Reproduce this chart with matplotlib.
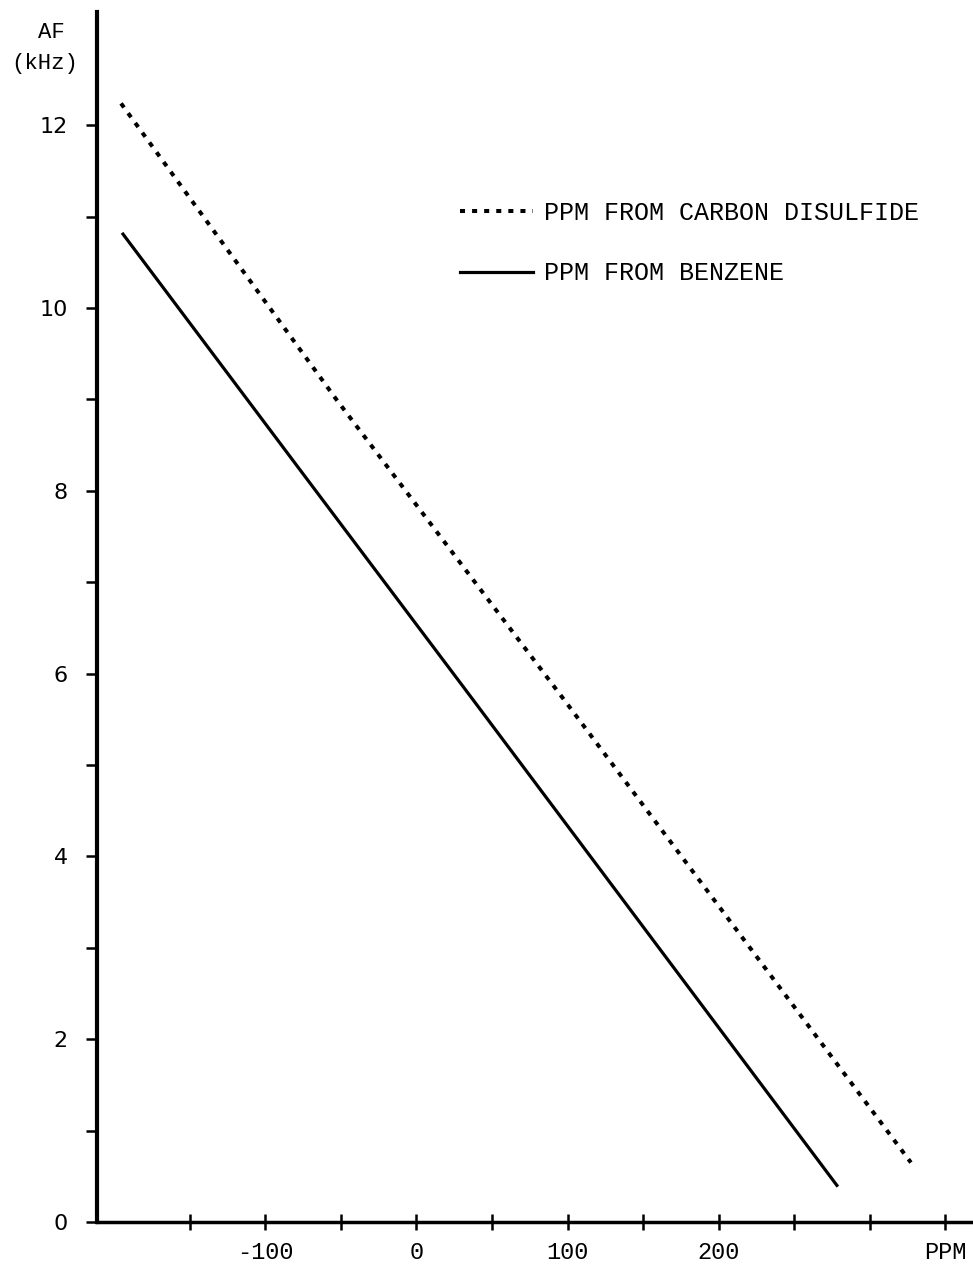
import matplotlib
matplotlib.use("Agg")
import matplotlib.pyplot as plt
from matplotlib.ticker import FixedLocator

# Lines (ppm, kHz)
cs2_ppm = [-195.6, -52.6, 97.0, 327.3]
cs2_af = [12.24, 8.99, 5.73, 0.65]

benz_ppm = [-194.3, -77.1, 36.7, 278.3]
benz_af = [10.81, 8.23, 5.73, 0.40]

x_ticks = [-150, -100, -50, 0, 50, 100, 150, 200, 250, 300, 350]
x_tick_labels = ["", "-100", "", "0", "", "100", "", "200", "", "", "PPM"]
y_ticks = [0, 2, 4, 6, 8, 10, 12]
y_minor = [1, 3, 5, 7, 9, 11]

legend_labels = ["PPM FROM CARBON DISULFIDE", "PPM FROM BENZENE"]

mono = "Liberation Mono"

fig = plt.figure(figsize=(9.73, 12.66), dpi=100)
ax = fig.add_axes([0.0997, 0.0348, 0.9003, 0.9557])

l1, = ax.plot(cs2_ppm, cs2_af, color="black", lw=2.9,
              linestyle=(0, (1.25, 1.75)))
l2, = ax.plot(benz_ppm, benz_af, color="black", lw=2.3)

ax.set_xlim(-211.5, 368.4)
ax.set_ylim(0, 13.24)

for s in ["top", "right"]:
    ax.spines[s].set_visible(False)
ax.spines["left"].set_linewidth(3.0)
ax.spines["bottom"].set_linewidth(2.5)

ax.xaxis.set_major_locator(FixedLocator(x_ticks))
ax.set_xticklabels(x_tick_labels, fontfamily=mono, fontsize=17)
ax.tick_params(axis="x", direction="inout", length=12, width=1.8, pad=8)

ax.yaxis.set_major_locator(FixedLocator(y_ticks))
ax.yaxis.set_minor_locator(FixedLocator(y_minor))
ax.set_yticklabels([str(v) for v in y_ticks], fontfamily="DejaVu Sans", fontsize=16)
ax.tick_params(axis="y", which="both", direction="out", length=8, width=1.8, pad=13)

# axis title, top left
fig.text(51 / 973, 1 - 32 / 1266, "AF", ha="center", va="center",
         fontfamily=mono, fontsize=16)
fig.text(45 / 973, 1 - 63 / 1266, "(kHz)", ha="center", va="center",
         fontfamily=mono, fontsize=16)

ax.legend([l1, l2], legend_labels, loc="upper left",
          bbox_to_anchor=(460 / 973, 1 - 201 / 1266),
          bbox_transform=fig.transFigure, frameon=False,
          prop={"family": mono, "size": 18},
          handlelength=2.9, handletextpad=0.45, labelspacing=1.46,
          borderpad=0, borderaxespad=0)

fig.savefig("out.png", dpi=100)
